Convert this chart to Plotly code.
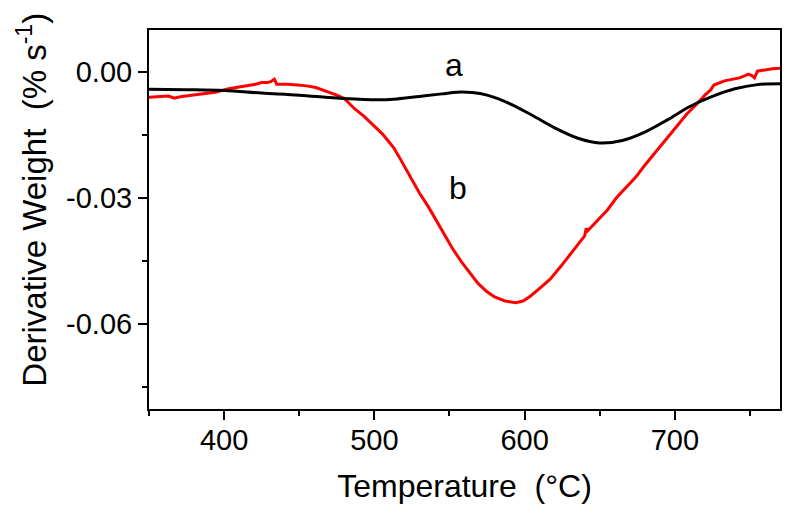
import plotly.graph_objects as go

# ---- data ----
temp_a = [350, 375, 400, 425, 450, 475, 500, 515, 530, 545, 555, 565, 575, 590,
          605, 620, 635, 650, 665, 680, 695, 710, 725, 740, 755, 770]
dtg_a = [-0.0041, -0.0042, -0.0044, -0.0050, -0.0055, -0.0062, -0.0066, -0.0064,
         -0.0058, -0.0052, -0.0048, -0.0049, -0.0055, -0.0075, -0.0103, -0.0133,
         -0.0157, -0.0169, -0.0163, -0.0143, -0.0114, -0.0082, -0.0058, -0.0040,
         -0.0030, -0.0028]

temp_b = [350, 357, 363, 367, 372, 377, 385, 394, 403, 410, 416, 421, 425, 429,
          431, 433.4, 435, 442, 449, 455, 461, 469, 475, 480, 487, 493, 500, 505,
          509, 513, 516, 520, 525, 530, 536, 541, 547, 552, 558, 563, 569, 575,
          580, 587, 594, 599, 604, 610, 617, 624, 630, 637, 640, 641, 642, 648,
          655, 661, 668, 674, 680, 685, 690, 696, 702, 708, 715, 720, 724, 726,
          733, 738, 743, 746, 749, 751, 753, 755, 760, 765, 770]
dtg_b = [-0.0060, -0.0058, -0.0057, -0.0062, -0.0058, -0.0056, -0.0053, -0.0048,
         -0.0040, -0.0036, -0.0031, -0.0029, -0.0025, -0.0025, -0.0023, -0.0017,
         -0.0029, -0.0029, -0.0031, -0.0033, -0.0037, -0.0047, -0.0055, -0.0063,
         -0.0088, -0.0105, -0.0128, -0.0146, -0.0163, -0.0181, -0.0199, -0.0225,
         -0.0258, -0.0288, -0.0321, -0.0352, -0.0390, -0.0420, -0.0452, -0.0476,
         -0.0503, -0.0523, -0.0535, -0.0545, -0.0549, -0.0545, -0.0533, -0.0515,
         -0.0493, -0.0463, -0.0435, -0.0402, -0.0390, -0.0372, -0.0378, -0.0355,
         -0.0329, -0.0300, -0.0273, -0.0250, -0.0222, -0.0200, -0.0178, -0.0152,
         -0.0126, -0.0100, -0.0075, -0.0055, -0.0042, -0.0031, -0.0021, -0.0018,
         -0.0014, -0.0010, -0.0005, -0.0008, -0.0014, 0.0002, 0.0005, 0.0008,
         0.0009]

x_tickvals = [400, 500, 600, 700]
x_ticktext = ["400", "500", "600", "700"]
y_tickvals = [0.0, -0.03, -0.06]
y_ticktext = ["0.00", "-0.03", "-0.06"]

labels = ["a", "b"]
label_x = [553, 556]
label_y = [0.0017, -0.0276]

FONT = "Liberation Sans, Arial, sans-serif"

fig = go.Figure()
fig.add_trace(go.Scatter(x=temp_b, y=dtg_b, mode="lines",
                         line=dict(color="#ff0000", width=3), showlegend=False))
fig.add_trace(go.Scatter(x=temp_a, y=dtg_a, mode="lines",
                         line=dict(color="black", width=3, shape="spline"),
                         showlegend=False))

for t, lx, ly in zip(labels, label_x, label_y):
    fig.add_annotation(x=lx, y=ly, text=t, showarrow=False,
                       font=dict(family=FONT, size=32, color="black"),
                       xanchor="center", yanchor="middle")

fig.add_annotation(xref="paper", yref="paper", x=-0.185, y=0.553,
                   text="Derivative Weight\u00a0\u00a0(%\u00a0s<sup>-1</sup>)",
                   textangle=-90, showarrow=False,
                   font=dict(family=FONT, size=33, color="black"),
                   xanchor="center", yanchor="middle")

# the page body adds an 8 px offset; the figure is sized to compensate
fig.update_layout(
    width=786, height=509,
    margin=dict(l=141, r=12, t=22, b=108),
    paper_bgcolor="white", plot_bgcolor="white",
    font=dict(family=FONT, color="black"),
)
fig.update_xaxes(
    range=[350, 770], showgrid=False, zeroline=False,
    showline=True, linecolor="black", linewidth=2, mirror=True,
    ticks="outside", ticklen=9, tickwidth=2, tickcolor="black",
    tickvals=x_tickvals, ticktext=x_ticktext, ticklabelstandoff=-5,
    tickfont=dict(family=FONT, size=29, color="black"),
    minor=dict(ticks="outside", ticklen=5, tickwidth=2, tickcolor="black",
               tick0=350, dtick=50),
    title=dict(text="Temperature\u00a0\u00a0(°C)",
               font=dict(family=FONT, size=32, color="black"), standoff=20),
)
fig.update_yaxes(
    range=[-0.0802, 0.01], showgrid=False, zeroline=False,
    showline=True, linecolor="black", linewidth=2, mirror=True,
    ticks="outside", ticklen=9, tickwidth=2, tickcolor="black",
    tickvals=y_tickvals, ticktext=y_ticktext,
    tickfont=dict(family=FONT, size=29, color="black"),
    minor=dict(ticks="outside", ticklen=5, tickwidth=2, tickcolor="black",
               tick0=0, dtick=0.015),
)

fig.write_html("out.html")
